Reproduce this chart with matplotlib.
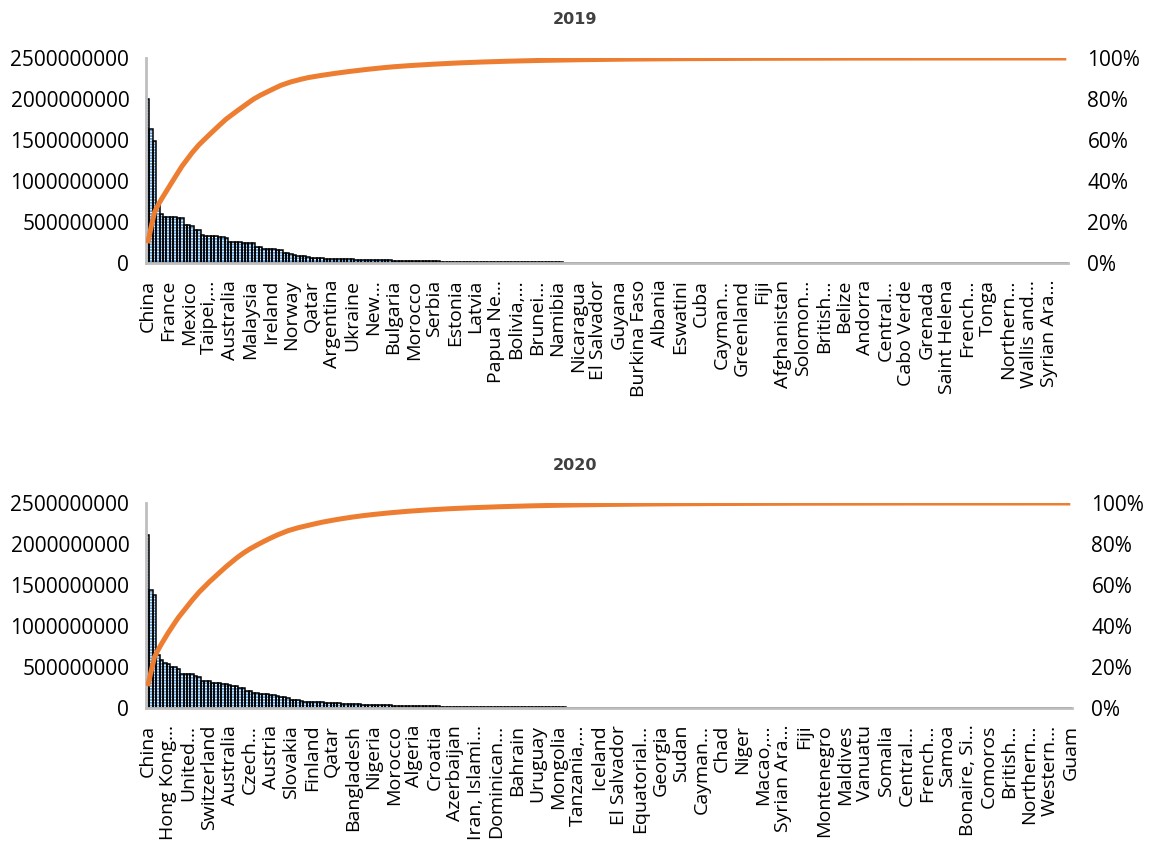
import matplotlib
matplotlib.use("Agg")
import matplotlib.pyplot as plt
import numpy as np
from matplotlib.ticker import FuncFormatter, PercentFormatter

# ---------------- data (values in millions) ----------------
values_2019 = [
    2000, 1640, 1490, 710, 600, 565, 560, 555, 555, 550,
    545, 465, 460, 455, 405, 400, 340, 335, 330, 328,
    325, 322, 318, 310, 262, 258, 255, 252, 250, 248,
    245, 240, 200, 196, 172, 170, 168, 166, 164, 160,
    122, 118, 114, 92, 90, 88, 85, 74,
    60, 58, 56, 55, 54, 52, 50, 49, 48, 46, 45, 44,
    43, 42, 41, 40, 39, 38, 37, 36, 35, 34, 33, 32,
    28, 27, 26, 25, 24, 23, 22, 21.5, 21, 20.5, 20, 19.5, 19,
    18.5, 18, 17.5, 17, 16.5, 16, 15.5, 15, 14.5, 14, 13.5, 13, 12.5,
    12, 11.7, 11.3, 11.0, 10.7, 10.4, 10.1, 9.8, 9.5, 9.3,
    9.0, 8.8, 8.5, 8.3, 8.0, 7.8, 7.6, 7.4, 7.2, 7.0,
    6.8, 6.6, 6.4, 6.2, 6.0, 5.9, 5.7, 5.5, 5.4, 5.2,
    5.1, 4.9, 4.8, 4.7, 4.5, 4.4, 4.3, 4.2, 4.0, 3.9,
    3.8, 3.7, 3.6, 3.5, 3.4, 3.3, 3.2, 3.1, 3.0, 2.95,
    2.85, 2.8, 2.7, 2.6, 2.55, 2.5, 2.4, 2.35, 2.3, 2.2,
    2.15, 2.1, 2.0, 1.95, 1.9, 1.85, 1.8, 1.75, 1.7, 1.65,
    1.6, 1.55, 1.5, 1.45, 1.42, 1.38, 1.34, 1.3, 1.26, 1.22,
    1.19, 1.15, 1.12, 1.09, 1.06, 1.03, 1.0, 0.97, 0.94, 0.91,
    0.88, 0.86, 0.83, 0.81, 0.79, 0.76, 0.74, 0.72, 0.7, 0.68,
    0.66, 0.64, 0.62, 0.6, 0.58, 0.57, 0.55, 0.53, 0.52, 0.5,
    0.49, 0.47, 0.46, 0.45, 0.43, 0.42, 0.41, 0.4, 0.38, 0.37,
    0.36, 0.35, 0.34, 0.33, 0.32, 0.31, 0.3, 0.29, 0.28, 0.27,
    0.26, 0.25, 0.24, 0.23, 0.22, 0.21, 0.2, 0.19, 0.18, 0.17,
    0.16, 0.15, 0.14, 0.13, 0.12, 0.11, 0.1, 0.09, 0.08, 0.07,
    0.06, 0.05, 0.045, 0.04, 0.035, 0.03, 0.025, 0.02, 0.018, 0.016,
    0.014, 0.012, 0.01, 0.008, 0.006, 0.005, 0.004, 0.003, 0.002, 0.001,
    0.0008, 0.0005,
]

values_2020 = [
    2110, 1440, 1380, 650, 590, 550, 540, 505, 495, 480,
    420, 418, 415, 410, 385, 380, 335, 330, 325, 305,
    302, 300, 298, 295, 275, 272, 268, 245, 240, 210,
    205, 185, 180, 175, 170, 165, 160, 155, 148, 135,
    132, 128, 100, 97, 95, 80, 78, 77, 76, 75, 74, 72,
    64, 62, 60, 58, 56, 54, 52, 50, 48, 46,
    44, 42, 40, 38, 36, 35, 34, 33, 32, 31,
    30, 29, 28, 27, 26, 25, 24, 23, 22, 21,
    20, 19.5, 19, 18.5, 18, 17.5, 17, 16.5, 16, 15.5,
    15, 14.5, 14, 13.5, 13, 12.5, 12, 11.5,
    11.7, 11.3, 11.0, 10.7, 10.4, 10.1, 9.8, 9.5, 9.3,
    9.0, 8.8, 8.5, 8.3, 8.0, 7.8, 7.6, 7.4, 7.2, 7.0,
    6.8, 6.6, 6.4, 6.2, 6.0, 5.9, 5.7, 5.5, 5.4, 5.2,
    5.1, 4.9, 4.8, 4.7, 4.5, 4.4, 4.3, 4.2, 4.0, 3.9,
    3.8, 3.7, 3.6, 3.5, 3.4, 3.3, 3.2, 3.1, 3.0, 2.95,
    2.85, 2.8, 2.7, 2.6, 2.55, 2.5, 2.4, 2.35, 2.3, 2.2,
    2.15, 2.1, 2.0, 1.95, 1.9, 1.85, 1.8, 1.75, 1.7, 1.65,
    1.6, 1.55, 1.5, 1.45, 1.42, 1.38, 1.34, 1.3, 1.26, 1.22,
    1.19, 1.15, 1.12, 1.09, 1.06, 1.03, 1.0, 0.97, 0.94, 0.91,
    0.88, 0.86, 0.83, 0.81, 0.79, 0.76, 0.74, 0.72, 0.7, 0.68,
    0.66, 0.64, 0.62, 0.6, 0.58, 0.57, 0.55, 0.53, 0.52, 0.5,
    0.49, 0.47, 0.46, 0.45, 0.43, 0.42, 0.41, 0.4, 0.38, 0.37,
    0.36, 0.35, 0.34, 0.33, 0.32, 0.31, 0.3, 0.29, 0.28, 0.27,
    0.26, 0.25, 0.24, 0.23, 0.22, 0.21, 0.2, 0.19, 0.18, 0.17,
    0.16, 0.15, 0.14, 0.13, 0.12, 0.11, 0.1, 0.09, 0.08, 0.07,
    0.06, 0.05, 0.045, 0.04, 0.035, 0.03, 0.025, 0.02, 0.018, 0.016,
    0.014, 0.012, 0.01, 0.008, 0.006, 0.005, 0.004, 0.003, 0.002, 0.001,
    0.0008, 0.0005,
]

labels_2019 = [
    "China", "France", "Mexico", "Taipei,…", "Australia", "Malaysia", "Ireland",
    "Norway", "Qatar", "Argentina", "Ukraine", "New…", "Bulgaria", "Morocco",
    "Serbia", "Estonia", "Latvia", "Papua Ne…", "Bolivia,…", "Brunei…", "Namibia",
    "Nicaragua", "El Salvador", "Guyana", "Burkina Faso", "Albania", "Eswatini",
    "Cuba", "Cayman…", "Greenland", "Fiji", "Afghanistan", "Solomon…", "British…",
    "Belize", "Andorra", "Central…", "Cabo Verde", "Grenada", "Saint Helena",
    "French…", "Tonga", "Northern…", "Wallis and…", "Syrian Ara…",
]

labels_2020 = [
    "China", "Hong Kong…", "United…", "Switzerland", "Australia", "Czech…",
    "Austria", "Slovakia", "Finland", "Qatar", "Bangladesh", "Nigeria", "Morocco",
    "Algeria", "Croatia", "Azerbaijan", "Iran, Islami…", "Dominican…", "Bahrain",
    "Uruguay", "Mongolia", "Tanzania,…", "Iceland", "El Salvador", "Equatorial…",
    "Georgia", "Sudan", "Cayman…", "Chad", "Niger", "Macao,…", "Syrian Ara…", "Fiji",
    "Montenegro", "Maldives", "Vanuatu", "Somalia", "Central…", "French…", "Samoa",
    "Bonaire, Si…", "Comoros", "British…", "Northern…", "Western…", "Guam",
]

LABEL_STEP = 6
SCALE = 1e6

BAR_FACE = "#5B9BD5"
LINE_COLOR = "#ED7D31"
AXIS_GRAY = "#BFBFBF"
TXT = "#000000"

plt.rcParams["font.family"] = ["Open Sans", "DejaVu Sans"]
plt.rcParams["hatch.linewidth"] = 0.7

fig = plt.figure(figsize=(11.49, 8.43), dpi=100)


def draw(rect, vals_m, labels, title, title_y):
    vals = np.array(vals_m) * SCALE
    n = len(vals)
    x = np.arange(n)
    ax = fig.add_axes(rect)
    ax.bar(x, vals, width=1.0, color=BAR_FACE, edgecolor="white",
           hatch="------", linewidth=0, zorder=2)
    ax.bar(x, vals, width=1.0, fill=False, edgecolor="black",
           linewidth=1.1, zorder=3)
    ax.set_xlim(-0.5, n - 0.5)
    ax.set_ylim(0, 2.5e9)
    ax.set_yticks(np.arange(0, 2.5e9 + 1, 5e8))
    ax.yaxis.set_major_formatter(FuncFormatter(lambda v, p: f"{int(round(v))}"))
    ticks = np.arange(0, n, LABEL_STEP)[:len(labels)]
    ax.set_xticks(ticks)
    ax.set_xticklabels(labels, rotation=90, ha="center", va="top",
                       fontsize=14, color=TXT)
    ax.tick_params(axis="x", length=0, pad=12)
    ax.tick_params(axis="y", length=0, pad=12, labelsize=15, labelcolor=TXT)
    for s in ["top", "right"]:
        ax.spines[s].set_visible(False)
    for s in ["left", "bottom"]:
        ax.spines[s].set_color(AXIS_GRAY)
        ax.spines[s].set_linewidth(2.0)
        ax.spines[s].set_zorder(3.5)

    cum = np.cumsum(vals) / vals.sum()
    ax2 = ax.twinx()
    ax2.plot(x, cum, color=LINE_COLOR, linewidth=3.6, solid_capstyle="butt",
             zorder=4)
    ax2.set_ylim(0, 1.0)
    ax2.set_yticks(np.arange(0, 1.01, 0.2))
    ax2.yaxis.set_major_formatter(PercentFormatter(1.0, decimals=0))
    ax2.tick_params(axis="y", length=0, pad=14, labelsize=15, labelcolor=TXT)
    for s in ["top", "left", "bottom", "right"]:
        ax2.spines[s].set_visible(False)

    fig.text(0.5, title_y, title, ha="center", va="center", fontsize=11.5,
             fontweight="bold", color="#404040", family="DejaVu Sans")
    return ax


W = 1149.0
H = 843.0
draw([146 / W, 1 - 263 / H, 922 / W, 205 / H], values_2019, labels_2019, "2019",
     1 - 20 / H)
draw([146 / W, 1 - 708 / H, 926 / W, 205 / H], values_2020, labels_2020, "2020",
     1 - 465 / H)

fig.savefig("out.png", dpi=100)
